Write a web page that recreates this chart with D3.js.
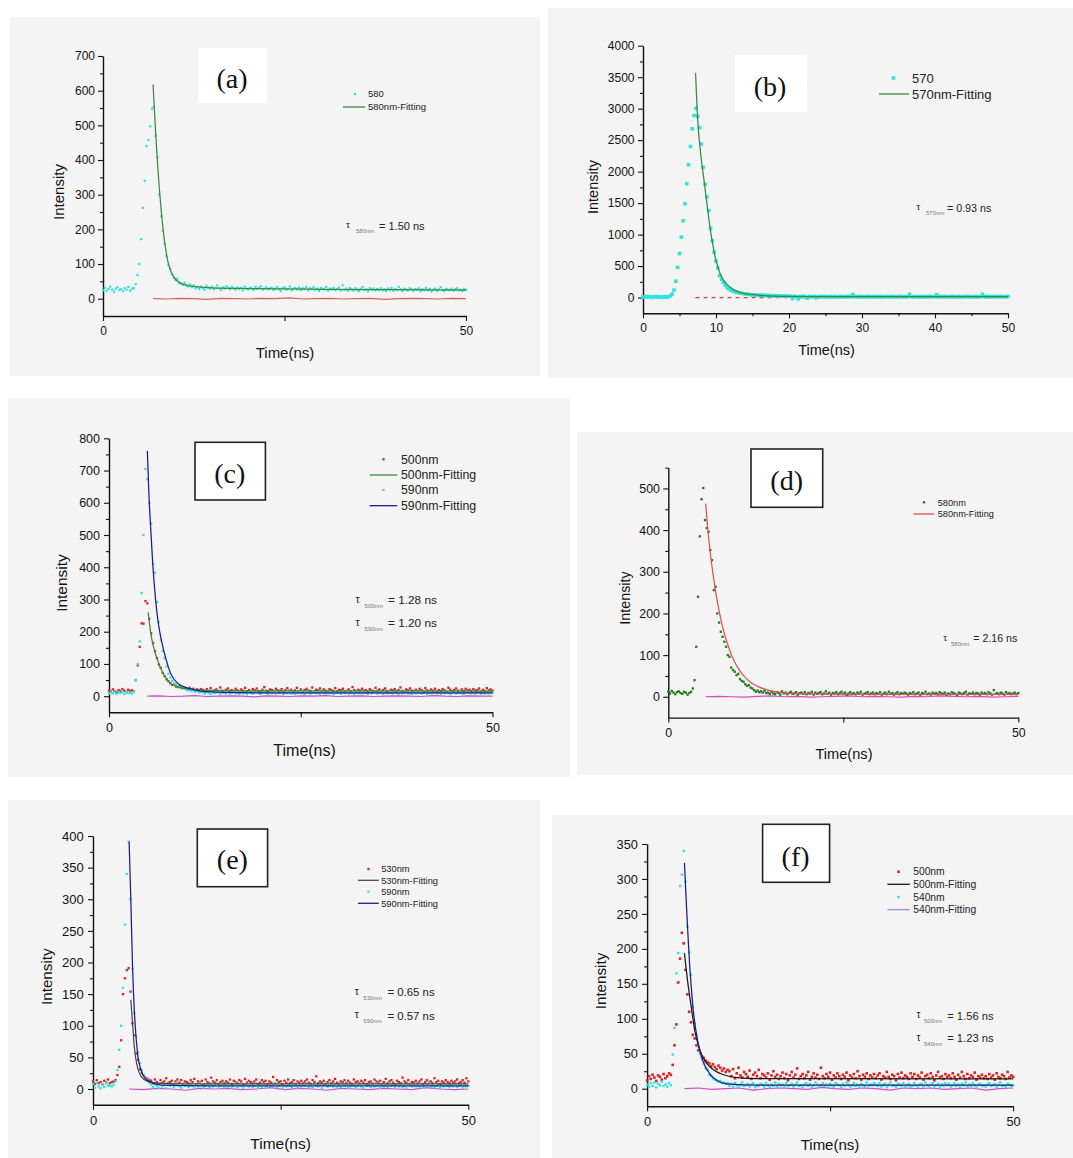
<!DOCTYPE html>
<html><head><meta charset="utf-8">
<script src="https://cdn.jsdelivr.net/npm/d3@7"></script>
<style>body{margin:0;background:#fff;}svg{display:block;}</style>
</head><body>
<svg id="chart" width="1073" height="1158"></svg>
<script>
// ---------------- DATA ----------------
const T_STEP = 0.25; // ns per time channel (channel i -> t = i*T_STEP)

// (a)
const a_580 = [24,31,22,28,35,26,20,29,33,25,27,21,30,26,34,23,29,
30,42,68,100,172,262,340,440,458,497,548,553,
470,408,300,238,195,158,122,98,86,70,60,54,58,45,44,40,46,37,35,41,33,38,30,34,
28,35,30,26,37,32,29,34,27,31,38,30,25,33,29,36,31,27,34,30,
26,33,28,31,24,35,29,27,32,30,25,34,28,31,36,26,29,33,27,30,
31,25,29,34,27,22,30,33,26,28,35,24,29,31,27,32,25,30,28,34,
24,30,27,33,25,29,22,31,28,26,34,23,29,27,31,25,28,32,24,39,
25,29,23,31,27,24,30,26,22,28,33,25,27,21,30,26,29,24,28,25,
30,24,27,22,29,26,31,23,28,25,34,27,22,29,26,24,30,27,23,28,
26,30,22,27,25,31,24,28,21,26,29,23,27,33,25,22,28,26,24,29,
23,27,30,24,26,22,28,25];
const a_580_fit = [[6.9,618],[7.0,575],[7.25,480],[7.5,395],[7.75,320],[8.0,258],[8.25,205],[8.5,162],[8.75,128],[9.0,102],[9.5,72],[10,56],[10.5,47],[11,42],[12,37],[13,34],[15,31],[20,29],[30,27],[40,26],[50,25]];
const a_res = [0,-1,1,0,-2,1,0,-1,1,0,2,-1,0,1,-1,0,1,-2,0,1,0,-1,1,0];
const a_resStart = 6.9;

// (b)
const b_570 = [12,5,18,9,14,3,11,16,7,13,10,4,15,8,12,
30,55,120,260,480,700,960,1220,1490,1810,
2110,2400,2680,2890,3005,2880,2700,2440,2070,1800,
1600,1380,1100,900,720,580,470,350,290,240,
200,165,140,120,108,95,86,80,74,68,
62,58,55,50,47,45,
42,40,39,37,35,36,33,31,32,30,28,29,27,25,26,24,25,23,22,22,
18,-15,20,12,-20,16,14,22,8,-10,18,15,11,19,-5,14,17,9,20,13,
15,12,18,10,16,14,9,20,13,17,11,15,19,12,48,14,16,10,18,13,
16,11,19,14,12,17,15,10,18,13,16,12,14,19,11,15,17,13,12,16,
14,18,11,15,13,50,16,12,17,14,10,18,15,13,16,11,19,14,12,17,
45,13,16,12,18,14,11,15,17,13,16,10,19,14,12,15,18,13,16,11,
14,17,12,15,13,52,16,11,18,14,12,17,15,13,16,19,12,14,17,15];
const b_570_fit = [[7.2,3570],[7.4,3030],[7.6,2640],[7.8,2400],[8.0,2180],[8.25,1960],[8.5,1730],[8.75,1500],[9.0,1270],[9.25,1060],[9.5,880],[9.75,720],[10,590],[10.5,400],[11,280],[11.5,210],[12,160],[12.5,118],[13,92],[14,62],[15,45],[16,34],[18,23],[20,18],[25,15],[50,14]];
const b_res = [0,0];
const b_resStart = 7.2;

// (c)
const c_500 = [18,14,21,16,12,19,15,22,17,13,20,16,18,15,
50,96,153,226,225,295,288,240,195,165,140,118,98,88,72,62,52,46,40,35,38,30,28,32,25,27,24,22,26,20,23,19,21,18,22,
19,14,22,16,25,13,18,21,15,27,17,12,20,24,16,19,14,23,18,11,
21,17,26,15,19,13,22,18,24,16,12,20,28,17,15,21,19,14,23,18,
16,22,13,19,25,17,20,14,18,26,15,21,12,19,23,17,16,27,14,20,
18,24,15,21,17,13,22,19,16,25,14,20,18,23,12,17,21,15,28,19,
14,20,17,23,16,19,13,22,18,15,26,17,21,14,19,24,16,12,20,18,
22,15,19,27,16,13,21,18,24,17,14,20,16,23,19,12,25,18,15,21,
17,23,14,19,16,22,18,13,26,20,15,19,24,17,12,21,16,23,18,20,
15,22,17,19,24,14,20,16,25,18,21,17];
const c_590 = [8,12,9,14,7,11,10,13,6,12,9,11,8,14,
50,100,170,320,500,705,673,600,536,410,383,292,230,175,140,118,92,70,58,48,40,35,31,27,29,24,22,18,20,16,17,14,15,12,13,
12,8,14,10,6,13,9,11,15,7,10,12,8,13,6,11,14,9,10,7,
13,9,11,6,14,10,8,12,15,9,7,11,13,10,6,12,9,14,8,11,
10,13,7,12,9,15,8,11,6,10,14,9,12,7,11,13,8,10,15,9,
11,7,13,10,8,14,9,12,6,11,10,13,7,12,9,15,8,10,11,6,
14,9,11,8,12,10,7,13,9,11,15,8,10,12,6,11,9,13,10,8,
12,10,6,13,9,11,14,8,10,7,12,9,13,11,8,10,14,7,11,9,
10,13,8,11,7,12,9,14,10,6,11,13,8,10,12,9,7,11,14,10,
9,12,8,11,13,7,10,9,12,8,11,10];
const c_500_fit = [[5.1,260],[5.3,222],[5.45,195],[5.7,164],[6.0,136],[6.2,122],[6.65,91],[7.0,74],[7.35,60],[8.05,39],[9.0,29],[10.5,22],[13,18],[20,16.5],[50,16]];
const c_590_fit = [[5.0,761],[5.2,629],[5.45,515],[5.7,412],[6.08,298],[6.35,240],[6.65,195],[7.0,155],[7.35,122],[8.05,70],[9.0,39],[10.4,24],[12,16],[15,12],[20,10.5],[50,10]];
const c_res = [0,1,-1,0,2,-1,0,1,0,-2,1,0,-1,1,0,2,-1,0,1,-1,0,1,0,-1,2,0,-1,1,0,0];
const c_resStart = 5.0;

// (d)
const d_580 = [12,8,14,10,6,11,13,9,7,12,10,5,9,12,
20,40,120,240,385,474,501,424,405,396,352,328,256,264,200,178,156,144,132,120,100,96,70,64,60,52,55,42,38,36,30,26,28,22,20,16,12,15,11,13,10,14,9,
10,7,12,8,6,11,9,5,13,8,10,6,9,12,7,8,11,5,9,10,
7,11,6,9,8,12,5,10,7,9,11,6,8,13,7,10,5,9,8,11,
6,9,12,7,10,5,8,11,7,9,6,10,8,12,5,7,9,11,6,8,
10,6,9,7,11,5,8,10,6,12,7,9,5,8,11,6,9,7,10,8,
5,9,7,11,6,8,10,4,9,7,12,6,8,5,10,7,9,6,11,8,
7,10,5,8,6,11,9,7,4,10,8,6,9,12,5,8,7,10,6,9,
8,5,10,7,9,6,11,8,5,16,7,9,6,10,8,5,11,7,9,6,
8,10,6,9];
const d_580_fit = [[5.34,464],[5.6,410],[5.9,360],[6.2,318],[6.5,282],[6.8,248],[7.1,220],[7.4,195],[7.7,172],[8.0,152],[8.5,125],[9.0,101],[9.5,83],[10,68],[10.5,56],[11,46],[12,32],[13,23],[14,17],[15,13],[17,9],[20,7],[30,6],[50,6]];
const d_res = [0,1,0,-1,1,2,0,1,-1,0,1,2,0,1,0,-1,1,0,2,1,0,1,-1,0,1];
const d_resStart = 5.34;

// (e)
const e_530 = [12,8,14,9,11,7,13,10,15,9,11,12,
14,22,35,77,150,175,188,191,154,104,85,56,46,31,25,22,18,16,14,
13,9,15,11,8,14,10,12,17,9,11,13,7,12,15,10,14,8,12,11,
9,14,11,16,8,12,10,13,7,15,11,9,18,12,10,14,8,11,13,9,
12,10,15,8,13,11,9,14,12,7,16,10,13,11,9,12,15,8,10,14,
11,13,8,12,10,19,9,14,11,12,7,13,10,15,9,11,14,8,12,10,
13,9,12,15,10,8,14,11,20,9,12,10,13,7,11,14,9,12,16,10,
8,12,11,14,9,13,10,7,15,11,12,9,13,10,14,8,11,12,9,15,
12,10,13,8,11,16,9,12,14,10,7,13,11,9,18,12,10,14,8,11,
10,13,9,12,15,8,11,14,10,12,9,17,11,13,8,12,10,14,11,9,
13,10,12,15,9,11,14,10,17,12];
const e_590 = [8,2,10,4,1,7,3,9,5,6,4,7,
12,30,62,100,160,260,340,391,300,190,120,83,58,41,30,22,17,14,10,
7,3,8,5,2,9,4,6,1,7,5,8,3,6,9,4,2,7,5,6,
3,8,5,1,7,4,9,6,2,5,8,3,7,4,6,9,2,5,7,3,
6,4,8,2,5,9,3,7,5,1,6,8,4,7,3,5,9,2,6,4,
8,5,2,7,4,6,9,3,5,8,1,6,4,7,5,3,8,6,2,7,
4,7,5,9,3,6,2,8,5,4,7,1,6,9,3,5,7,4,8,2,
6,3,8,5,7,2,4,9,6,3,5,8,4,1,7,5,6,3,9,4,
5,8,2,6,4,7,3,9,5,6,2,8,4,7,3,5,1,6,8,4,
7,4,6,3,8,5,2,7,9,4,6,3,5,8,2,6,4,7,5,3,
6,4,8,3,5,7,2,6,4,5];
const e_530_fit = [[5.04,141],[5.27,104],[5.5,67],[5.73,46],[5.96,33],[6.4,20],[7.3,12],[9,9],[15,8],[50,8]];
const e_590_fit = [[4.81,391],[5.04,299],[5.27,193],[5.5,125],[5.73,83],[5.96,54],[6.4,30],[6.87,18],[7.8,10],[9.2,6],[15,5],[50,5]];
const e_res = [0,-1,1,0,-2,1,0,1,-1,0,2,-1,1,0,-2,1,0,-1,1,0,-1,2,0,-1,0];
const e_resStart = 4.81;

// (f)
const f_500 = [12,18,14,20,16,11,19,17,13,21,15,18,22,
20,34,62,92,152,186,223,208,170,135,110,95,77,72,62,55,50,46,44,40,38,36,32,35,31,28,33,30,26,29,24,27,
25,18,28,15,22,30,19,16,24,21,17,26,14,20,23,18,27,15,21,19,
16,22,13,19,25,17,20,14,18,23,15,21,12,19,24,16,20,29,14,18,
21,15,19,24,13,17,22,16,20,14,30,18,15,21,17,23,13,19,16,22,
18,14,20,17,23,12,19,16,21,15,25,18,13,20,17,22,14,19,16,21,
15,19,22,13,18,16,24,17,14,20,18,12,21,16,23,15,19,17,14,22,
17,21,14,19,16,23,13,18,20,15,22,17,12,19,24,16,18,14,21,17,
19,15,22,17,13,20,16,24,18,14,21,15,19,17,23,13,18,16,20,15,
18,14,21,16,19,13,22,17,15,20,18,14,24,16,19,17];
const f_540 = [6,3,8,4,9,2,7,5,10,4,6,3,8,5,
49,87,165,194,290,306,340,296,232,195,163,117,93,77,60,50,42,36,29,27,20,18,15,13,12,10,11,8,9,7,8,
4,7,3,8,5,2,6,9,4,5,7,3,6,8,2,5,4,7,6,3,
8,5,2,6,4,9,3,7,5,6,2,8,4,5,7,3,6,9,4,5,
3,6,8,4,7,2,5,9,6,3,5,8,4,6,2,7,5,3,8,6,
5,2,7,4,9,6,3,5,8,4,6,2,7,5,3,9,4,6,5,8,
6,4,8,3,5,7,2,6,9,4,5,3,7,6,4,8,2,5,7,3,
4,8,5,2,6,7,3,9,5,4,6,8,3,5,7,2,6,4,8,5,
7,3,5,8,4,6,2,7,5,9,3,6,4,8,5,2,6,7,4,5,
3,6,8,4,5,7,2,6,9,4,5,3,7,6,4,5];
const f_500_fit = [[5.1,194],[5.57,151],[6.03,117],[6.5,84],[7.2,55],[8.1,37],[9.05,27],[10.45,20],[12.3,16],[15,14.5],[50,14]];
const f_540_fit = [[5.1,323],[5.34,270],[5.57,222],[5.8,179],[6.03,146],[6.26,117],[6.73,79],[7.2,55],[7.65,39],[8.6,21],[9.5,12],[10.9,7],[15,5],[50,5]];
const f_res = [0,1,-1,0,1,-2,0,1,0,-1,2,0,-1,1,0,-2,1,0,1,-1,0,1,-2,0,1];
const f_resStart = 5.1;

// lifetimes
const tauA = [["580nm","= 1.50 ns"]];
const tauB = [["570nm","= 0.93 ns"]];
const tauC = [["500nm","= 1.28 ns"],["590nm","= 1.20 ns"]];
const tauD = [["580nm","= 2.16 ns"]];
const tauE = [["530nm","= 0.65 ns"],["590nm","= 0.57 ns"]];
const tauF = [["500nm","= 1.56 ns"],["540nm","= 1.23 ns"]];

// ---------------- STYLE / LAYOUT ----------------
const CYAN = "#30e3df", RED = "#dd2222", GREEN = "#3a8a3a", DGREEN = "#1f7a1f",
      NAVY = "#1c1c8e", MAG = "#d548c8", GRAY = "#4a4a4a", BLACK = "#1a1a1a";
const FONT = "'Liberation Sans', Arial, sans-serif";
const SERIF = "'Liberation Serif', 'Times New Roman', serif";

const panels = [
 {lab:"(a)", bg:[10,17,540,376], xr:[103,466], yr:[316,56], yDom:[-50,700], yStep:100, yMinor:50,
  xTicks:[0,25,50], xLab:[0,50], xMinor:[], tickFont:12, yPad:3, xPad:5.7,
  xTitle:[285,353,15], yTitle:[58.5,192,15], box:[198,48,267,103,false], boxC:[232,80],
  scat:[{v:a_580,c:CYAN,s:2.2}], res:{v:a_res,t0:a_resStart,c:"#d9605a",dash:null},
  fits:[{v:a_580_fit,c:GREEN}],
  leg:{font:9.5, mx:355, lx:[343,365], tx:368, items:[{k:"dot",c:CYAN,s:2.2,t:"580",y:94},{k:"line",c:GREEN,t:"580nm-Fitting",y:107}]},
  tau:{font:11, tx:346, sx:356, ex:379, ys:[226], rows:tauA}},
 {lab:"(b)", bg:[548,8,1073,378], xr:[643,1008], yr:[313.3,45.7], yDom:[-250,4000], yStep:500, yMinor:250,
  xTicks:[0,10,20,30,40,50], xLab:[0,10,20,30,40,50], xMinor:[5,15,25,35,45], tickFont:12, yPad:3.5, xPad:5.4,
  xTitle:[826.5,350,14.5], yTitle:[592.7,187,14.5], box:[735,55,807,112,false], boxC:[770,88],
  scat:[{v:b_570,c:CYAN,s:3.6}], res:{v:b_res,t0:b_resStart,c:"#e03a3a",dash:"4,4"},
  fits:[{v:b_570_fit,c:GREEN}],
  leg:{font:13, mx:893.5, lx:[879,909], tx:912, items:[{k:"dot",c:CYAN,s:3.6,t:"570",y:78},{k:"line",c:GREEN,t:"570nm-Fitting",y:94}]},
  tau:{font:10.7, tx:916.6, sx:926, ex:947, ys:[208], rows:tauB}},
 {lab:"(c)", bg:[8,398,570,777], xr:[109,492.5], yr:[712.3,438.3], yDom:[-50,800], yStep:100, yMinor:50,
  xTicks:[0,25,50], xLab:[0,50], xMinor:[], tickFont:12.5, yPad:4, xPad:6.2,
  xTitle:[304.6,750,16], yTitle:[61.8,583,15.5], box:[195,442.3,265.4,500,true], boxC:[229.7,475],
  scat:[{v:c_500,c:RED,s:2.3},{v:c_590,c:CYAN,s:2.3}], res:{v:c_res,t0:c_resStart,c:MAG,dash:null},
  fits:[{v:c_500_fit,c:GREEN},{v:c_590_fit,c:NAVY}],
  leg:{font:12.3, mx:383.5, lx:[369.7,397.3], tx:401, items:[
    {k:"dot",c:RED,s:2.3,t:"500nm",y:459.3},{k:"line",c:GREEN,t:"500nm-Fitting",y:475},
    {k:"dot",c:CYAN,s:2.3,t:"590nm",y:490},{k:"line",c:NAVY,t:"590nm-Fitting",y:505.7}]},
  tau:{font:11.8, tx:355.5, sx:364.6, ex:388, ys:[600,623], rows:tauC}},
 {lab:"(d)", bg:[577,432,1073,775], xr:[668.3,1018.3], yr:[717.6,467.6], yDom:[-50,550], yStep:100, yMinor:50,
  xTicks:[0,25,50], xLab:[0,50], xMinor:[], tickFont:12.4, yPad:3.3, xPad:5.2,
  xTitle:[844,754,14.6], yTitle:[625,598,14.3], box:[751,449,822.7,507.3,true], boxC:[786.7,481.7],
  scat:[{v:d_580,c:DGREEN,s:2.3}], res:{v:d_res,t0:d_resStart,c:MAG,dash:null},
  fits:[{v:d_580_fit,c:"#e05050"}],
  leg:{font:9.2, mx:924, lx:[913.3,934.3], tx:937.7, items:[{k:"dot",c:DGREEN,s:2.3,t:"580nm",y:502.3},{k:"line",c:"#e05050",t:"580nm-Fitting",y:514}]},
  tau:{font:10.6, tx:943.3, sx:951, ex:973.3, ys:[638.3], rows:tauD}},
 {lab:"(e)", bg:[8,800,540,1158], xr:[93,468.3], yr:[1104.8,836], yDom:[-25,400], yStep:50, yMinor:25,
  xTicks:[0,25,50], xLab:[0,50], xMinor:[], tickFont:13, yPad:4.3, xPad:6,
  xTitle:[280.6,1143.3,15.5], yTitle:[46.5,976.7,15.2], box:[197.3,829,267.6,886.7,true], boxC:[232.4,860.7],
  scat:[{v:e_530,c:RED,s:2.3},{v:e_590,c:CYAN,s:2.3}], res:{v:e_res,t0:e_resStart,c:MAG,dash:null},
  fits:[{v:e_530_fit,c:GRAY},{v:e_590_fit,c:NAVY}],
  leg:{font:9.3, mx:368.5, lx:[358,378.8], tx:381.2, items:[
    {k:"dot",c:RED,s:2.3,t:"530nm",y:869},{k:"line",c:GRAY,t:"530nm-Fitting",y:880.3},
    {k:"dot",c:CYAN,s:2.3,t:"590nm",y:891.7},{k:"line",c:NAVY,t:"590nm-Fitting",y:903.3}]},
  tau:{font:11.4, tx:354.7, sx:363.3, ex:387.4, ys:[992.3,1016], rows:tauE}},
 {lab:"(f)", bg:[552,815,1073,1158], xr:[647.1,1013.1], yr:[1106.2,844], yDom:[-25,350], yStep:50, yMinor:25,
  xTicks:[0,25,50], xLab:[0,50], xMinor:[], tickFont:12.8, yPad:4.2, xPad:5.9,
  xTitle:[830,1144.3,15], yTitle:[600.5,981,15.2], box:[762.6,824.3,829.6,882.3,true], boxC:[795.6,858.3],
  scat:[{v:f_500,c:RED,s:2.6},{v:f_540,c:CYAN,s:2.4}], res:{v:f_res,t0:f_resStart,c:MAG,dash:null},
  fits:[{v:f_500_fit,c:BLACK},{v:f_540_fit,c:NAVY}],
  leg:{font:10.3, mx:898.6, lx:[887.4,909.8], tx:913.2, items:[
    {k:"dot",c:RED,s:2.6,t:"500nm",y:871.7},{k:"line",c:BLACK,t:"500nm-Fitting",y:884.3},
    {k:"dot",c:CYAN,s:2.4,t:"540nm",y:897},{k:"line",c:"#a58be0",t:"540nm-Fitting",y:909.7}]},
  tau:{font:11.2, tx:916.6, sx:924, ex:947.2, ys:[1016,1038.3], rows:tauF}}
];

// ---------------- DRAW ----------------
const svg = d3.select("#chart");
svg.append("rect").attr("width",1073).attr("height",1158).attr("fill","#fff");

function drawPanel(p){
  const g = svg.append("g");
  g.append("rect").attr("x",p.bg[0]).attr("y",p.bg[1])
    .attr("width",p.bg[2]-p.bg[0]).attr("height",p.bg[3]-p.bg[1]).attr("fill","#f4f4f4");

  const x = d3.scaleLinear().domain([0,50]).range(p.xr);
  const y = d3.scaleLinear().domain(p.yDom).range(p.yr);

  // label box
  const bx = g.append("rect").attr("x",p.box[0]).attr("y",p.box[1])
    .attr("width",p.box[2]-p.box[0]).attr("height",p.box[3]-p.box[1]).attr("fill","#fff");
  if(p.box[4]) bx.attr("stroke","#222").attr("stroke-width",1.6);
  g.append("text").attr("x",p.boxC[0]).attr("y",p.boxC[1]+8).attr("text-anchor","middle")
    .attr("font-family",SERIF).attr("font-size",28).attr("fill","#111").text(p.lab);

  // axes
  const majors = d3.range(0, p.yDom[1]+1e-6, p.yStep).filter(v=>v<=p.yDom[1]);
  const minors = d3.range(p.yDom[0], p.yDom[1]+1e-6, p.yMinor).filter(v=>majors.indexOf(v)<0 && v>p.yDom[0]);
  const yAx = g.append("g").attr("transform",`translate(${p.xr[0]},0)`)
    .call(d3.axisLeft(y).tickValues(majors).tickSize(5).tickSizeOuter(0).tickPadding(p.yPad).tickFormat(d3.format("d")));
  const yMin = g.append("g").attr("transform",`translate(${p.xr[0]},0)`)
    .call(d3.axisLeft(y).tickValues(minors).tickSize(3).tickSizeOuter(0).tickFormat(""));
  yMin.select(".domain").remove();
  const xAx = g.append("g").attr("transform",`translate(0,${p.yr[0]})`)
    .call(d3.axisBottom(x).tickValues(p.xTicks).tickSize(5).tickSizeOuter(0).tickPadding(p.xPad)
      .tickFormat(d=>p.xLab.indexOf(d)>=0?d:""));
  if(p.xMinor.length){
    const xMin = g.append("g").attr("transform",`translate(0,${p.yr[0]})`)
      .call(d3.axisBottom(x).tickValues(p.xMinor).tickSize(3).tickSizeOuter(0).tickFormat(""));
    xMin.select(".domain").remove();
    xMin.selectAll("line").attr("stroke","#111").attr("stroke-width",1.1);
  }
  [yAx,xAx].forEach(a=>{
    a.attr("font-family",FONT).attr("font-size",p.tickFont);
    a.selectAll("text").attr("fill","#111");
    a.select(".domain").attr("stroke","#111").attr("stroke-width",1.4);
  });
  [yAx,yMin,xAx].forEach(a=>a.selectAll("line").attr("stroke","#111").attr("stroke-width",1.1));

  // titles
  g.append("text").attr("x",p.xTitle[0]).attr("y",p.xTitle[1]+p.xTitle[2]*0.35).attr("text-anchor","middle")
    .attr("font-family",FONT).attr("font-size",p.xTitle[2]).attr("fill","#111").text("Time(ns)");
  g.append("text").attr("transform",`translate(${p.yTitle[0]+p.yTitle[2]*0.35},${p.yTitle[1]}) rotate(-90)`)
    .attr("text-anchor","middle").attr("font-family",FONT).attr("font-size",p.yTitle[2]).attr("fill","#111").text("Intensity");

  // residual baseline (drawn under the data)
  const r = p.res;
  const rStep = (50 - r.t0)/(r.v.length-1);
  const line = d3.line().x(d=>x(d[0])).y(d=>y(d[1]));
  const rl = g.append("path").datum(r.v.map((v,i)=>[r.t0+i*rStep, v]))
    .attr("d",line).attr("fill","none").attr("stroke",r.c).attr("stroke-width",1.2);
  if(r.dash) rl.attr("stroke-dasharray",r.dash);

  // scatter series
  p.scat.forEach(s=>{
    g.append("g").selectAll("rect").data(s.v.map((v,i)=>[i*T_STEP,v])).join("rect")
      .attr("x",d=>x(d[0])-s.s/2).attr("y",d=>y(d[1])-s.s/2)
      .attr("width",s.s).attr("height",s.s).attr("fill",s.c);
  });

  // fits
  const fl = d3.line().x(d=>x(d[0])).y(d=>y(d[1])).curve(d3.curveMonotoneX);
  p.fits.forEach(f=>{
    g.append("path").datum(f.v).attr("d",fl).attr("fill","none").attr("stroke",f.c).attr("stroke-width",1.25);
  });

  // legend
  const L = p.leg;
  L.items.forEach(it=>{
    if(it.k==="dot"){
      g.append("rect").attr("x",L.mx-it.s/2).attr("y",it.y-it.s/2).attr("width",it.s).attr("height",it.s).attr("fill",it.c);
    } else {
      g.append("line").attr("x1",L.lx[0]).attr("x2",L.lx[1]).attr("y1",it.y).attr("y2",it.y)
        .attr("stroke",it.c).attr("stroke-width",1.3);
    }
    g.append("text").attr("x",L.tx).attr("y",it.y+L.font*0.35).attr("font-family",FONT)
      .attr("font-size",L.font).attr("fill","#222").text(it.t);
  });

  // lifetimes
  const T = p.tau;
  T.rows.forEach((row,k)=>{
    const base = T.ys[k] + T.font*0.35;
    g.append("text").attr("x",T.tx).attr("y",base-1.5).attr("font-family",FONT)
      .attr("font-size",T.font*0.9).attr("fill","#222").text("τ");
    g.append("text").attr("x",T.sx).attr("y",base+3.5).attr("font-family",FONT)
      .attr("font-size",6).attr("fill","#777").text(row[0]);
    g.append("text").attr("x",T.ex).attr("y",base).attr("font-family",FONT)
      .attr("font-size",T.font).attr("fill","#222").text(row[1]);
  });
}
panels.forEach(drawPanel);
</script>
</body></html>
